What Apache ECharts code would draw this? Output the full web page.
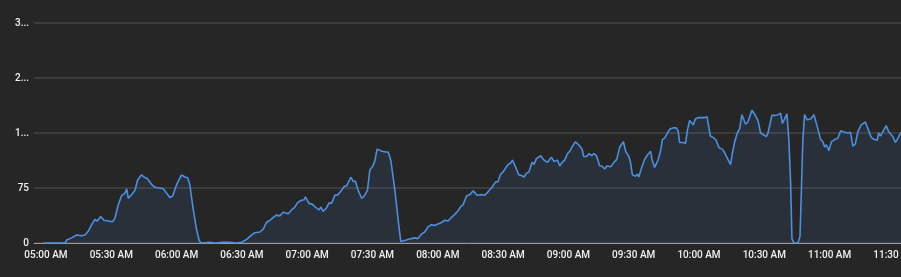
<!DOCTYPE html>
<html>
<head>
<meta charset="utf-8">
<script src="https://cdn.jsdelivr.net/npm/echarts@6/dist/echarts.min.js"></script>
<style>
html,body{margin:0;padding:0;background:#262626;}
#c{width:901px;height:277px;}
</style>
</head>
<body>
<div id="c"></div>
<script>
// time in minutes since midnight
const times = [
298.8,304.1,308.7,309.5,311.8,314.1,316.4,317.9,319.4,321.0,322.5,323.6,325.1,326.6,328.6,330.6,331.7,333.2,334.8,336.3,
337.1,337.8,339.4,340.9,342.1,343.9,345.0,346.5,348.5,350.1,352.0,353.9,355.4,356.9,358.2,359.7,360.7,362.3,363.8,365.1,
366.1,367.6,369.2,370.4,371.5,375.3,377.6,380.8,384.5,387.2,389.9,
392.2,394.5,396.0,398.3,399.8,401.3,402.9,404.4,405.9,407.4,409.0,411.3,413.1,414.3,415.6,417.1,418.6,419.2,420.8,422.3,
423.8,425.4,426.3,427.3,428.9,430.1,431.2,432.7,434.2,435.8,437.0,438.1,440.1,441.1,442.2,443.4,445.0,446.2,447.7,448.8,
450.0,451.1,452.1,453.0,454.4,456.0,457.2,458.4,460.3,461.8,463.0,465.6,467.9,469.4,470.9,472.5,474.0,475.5,477.1,478.6,
480.1,481.7,483.2,484.7,486.3,487.8,489.3,490.6,491.6,493.2,494.7,496.2,498.2,500.1,501.6,503.1,504.9,506.5,507.7,508.9,
510.0,511.1,512.3,513.5,514.3,515.7,517.2,518.4,519.6,520.7,521.9,523.3,524.2,525.3,527.3,528.8,530.4,532.2,533.4,535.0,
536.0,537.1,538.3,539.6,540.6,541.7,543.2,544.7,546.3,547.0,548.4,549.5,550.6,551.8,552.9,554.4,555.4,556.7,557.6,559.4,
561.0,562.2,563.6,565.3,566.3,567.8,568.6,569.4,570.8,571.7,572.3,573.8,575.0,576.3,577.8,578.4,579.6,581.2,582.3,583.2,
584.2,585.0,586.5,588.0,589.6,590.4,591.1,592.6,593.8,594.7,595.7,596.5,597.4,598.3,599.5,600.8,601.5,602.6,603.7,604.1,
605.2,606.4,607.7,609.2,610.7,611.8,613.3,614.5,615.3,616.4,617.6,618.7,619.7,620.6,621.4,622.5,624.3,625.5,627.1,628.3,
629.4,630.9,631.7,632.4,633.5,635.0,636.3,637.5,638.3,639.3,640.4,641.3,642.1,642.7,643.6,645.4,646.4,647.0,647.7,648.5,
649.7,651.3,652.8,654.3,655.9,656.9,657.7,658.5,659.7,660.8,662.3,663.8,665.1,666.1,667.2,668.4,669.6,670.7,671.8,673.0,
674.5,676.4,677.6,679.1,680.6,681.9,682.5,683.4,684.5,686.0,687.1,688.0,689.1,690.2,691.4,692.6,694.0
];
const values = [
0,0,0,4,7,11,10,11,16,25,32,30,36,31,30,29,34,52,65,68,
74,61,66,72,86,93,90,88,80,76,75,74,68,62,64,77,84,93,90,89,
79,47,18,3,0,1,0,1,1,0,1,
5,11,14,15,19,28,31,35,38,37,42,40,46,49,55,58,59,63,54,53,
49,45,49,43,48,55,54,65,66,72,77,78,90,84,84,72,61,64,72,100,
104,112,128,129,125,124,124,113,72,31,2,4,6,7,6,12,15,22,25,24,
26,28,31,30,35,39,44,50,52,64,66,71,65,66,65,70,76,83,84,94,
97,102,107,109,113,104,93,92,90,95,97,110,107,115,119,113,110,117,111,113,
105,110,113,122,125,131,138,134,128,118,118,122,119,122,119,105,105,101,105,104,
110,114,131,138,125,118,109,93,91,94,90,104,114,120,125,114,103,113,125,141,
143,147,155,157,157,153,137,137,136,154,167,169,161,169,171,171,169,171,172,165,
146,144,141,130,128,123,114,107,122,138,150,156,175,176,162,165,181,176,167,150,
148,145,150,150,174,174,175,177,163,169,176,140,81,6,0,0,9,68,140,175,
168,169,175,159,141,138,131,134,126,138,141,143,153,152,151,150,151,132,135,152,
161,165,156,144,141,140,150,146,152,160,152,154,145,137,143,150,152
];
const yTicks = [0, 75, 150, 225, 300];
const xTickLabels = [300,330,360,390,420,450,480,510,540,570,600,630,660,690];

function fmtTime(m){
  let h = Math.floor(m/60), mm = Math.round(m%60);
  const ap = h >= 12 ? 'PM' : 'AM';
  let h12 = h % 12; if (h12 === 0) h12 = 12;
  return String(h12).padStart(2,'0') + ':' + String(mm).padStart(2,'0') + ' ' + ap;
}

const chart = echarts.init(document.getElementById('c'), null, {renderer:'canvas'});
chart.setOption({
  backgroundColor: '#262626',
  animation: false,
  grid: {left: 34, right: 0, top: 23, bottom: 34, containLabel: false, outerBoundsMode: 'none'},
  xAxis: {
    type: 'value',
    min: 294.5,
    max: 692.8,
    axisLine: {show: true, lineStyle: {color: '#9a9a9a', width: 1}},
    axisTick: {show: false},
    splitLine: {show: false},
    axisLabel: {
      customValues: xTickLabels,
      formatter: v => fmtTime(v),
      color: '#f2f2f2',
      fontFamily: 'Roboto',
      fontWeight: 500,
      fontSize: 10,
      margin: 7,
      showMinLabel: true,
      showMaxLabel: true,
      hideOverlap: false
    }
  },
  yAxis: {
    type: 'value',
    min: yTicks[0],
    max: yTicks[yTicks.length-1],
    interval: 75,
    axisLine: {show: false},
    axisTick: {show: false},
    splitLine: {show: true, lineStyle: {color: '#444444', width: 1.5}},
    axisLabel: {
      color: '#f2f2f2',
      fontFamily: 'Roboto',
      fontWeight: 500,
      fontSize: 10,
      margin: 5,
      width: 16,
      overflow: 'truncate',
      ellipsis: '...'
    }
  },
  series: [{
    type: 'line',
    data: times.map((t,i) => [t, values[i]]),
    showSymbol: false,
    smooth: false,
    clip: true,
    lineStyle: {color: '#4a8fe0', width: 1.6},
    areaStyle: {color: 'rgba(74,143,224,0.15)'},
    z: 3
  }]
});
</script>
</body>
</html>
